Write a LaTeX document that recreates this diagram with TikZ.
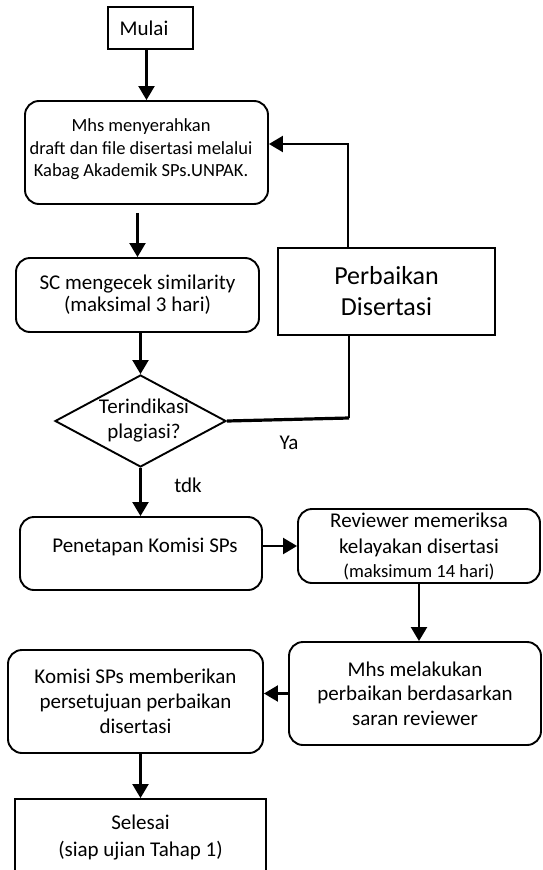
\documentclass[tikz,border=0pt]{standalone}
\usepackage{fontspec}
\setmainfont{Carlito}
\usetikzlibrary{shapes.geometric,arrows.meta,calc}
\begin{document}
\begin{tikzpicture}[x=1pt,y=-1pt,
  box/.style={draw, line width=1.9pt, align=center, inner sep=0pt, font=\fontsize{21}{25}\selectfont},
  rbox/.style={box, rounded corners=14pt},
  arr/.style={line width=2.2pt, -{Triangle[length=14pt,width=16pt]}},
  ln/.style={line width=2.2pt},
  lbl/.style={font=\fontsize{21}{25}\selectfont, inner sep=0pt, align=center}]
\useasboundingbox[fill=white] (0,0) rectangle (543,870);

\node[box, minimum width=85pt, minimum height=42pt] (mulai) at (150.5,28) {\hspace*{-13pt}Mulai};
\node[rbox, minimum width=243pt, minimum height=103pt] (b1) at (146.5,152.5) {};
\node[lbl, font=\fontsize{18.5}{22.5}\selectfont] (b1t) at (141,149.5)
  {Mhs menyerahkan\\draft dan file disertasi melalui\\Kabag Akademik SPs.UNPAK.};
\node[rbox, minimum width=243pt, minimum height=74pt, font=\fontsize{21}{22}\selectfont] (b2) at (137.5,295)
  {SC mengecek similarity\\(maksimal 3 hari)};
\node[box, minimum width=217pt, minimum height=87pt, font=\fontsize{26}{31}\selectfont] (perb) at (386.5,291.5)
  {Perbaikan\\Disertasi};
\node[draw, diamond, line width=1.9pt, minimum width=171pt, minimum height=92pt, inner sep=0pt] (q) at (140.5,421) {};
\node[lbl] (qt) at (144,420.5) {Terindikasi\\plagiasi?};
\node[rbox, minimum width=242pt, minimum height=73pt] (pen) at (141,553.5) {};
\node[lbl] (pent) at (145,547) {Penetapan Komisi SPs};
\node[rbox, minimum width=242pt, minimum height=74pt, font=\fontsize{21}{26}\selectfont] (rev) at (419,546)
  {Reviewer memeriksa\\kelayakan disertasi\\[-2pt]{\fontsize{18.6}{22}\selectfont (maksimum 14 hari)}};
\node[rbox, minimum width=252pt, minimum height=103pt, font=\fontsize{21}{24.5}\selectfont] (mhs) at (415,693.5)
  {Mhs melakukan\\perbaikan berdasarkan\\saran reviewer};
\node[rbox, minimum width=255pt, minimum height=103pt] (kom) at (135.5,701.5)
  {Komisi SPs memberikan\\persetujuan perbaikan\\disertasi};
\node[box, minimum width=251pt, minimum height=76pt, font=\fontsize{21}{27}\selectfont] (sel) at (140.5,837)
  {Selesai\\(siap ujian Tahap 1)};

\node[lbl] (ya) at (289,443) {Ya};
\node[lbl] (tdk) at (188,485) {tdk};

\coordinate (c1) at (349,418);
\coordinate (c2) at (348,144);

\draw[arr] (mulai.south -| b1.north) -- (b1.north);
\draw[arr] ([yshift=-8pt]b1.south -| b2.north) -- (b2.north);
\draw[arr] (b2.south -| q.north) -- (q.north);
\draw[arr] (q.south) -- (q.south |- pen.north);
\draw[arr] (rev.west -| pen.east) -- (rev.west);
\draw[arr] (rev.south) -- (rev.south |- mhs.north);
\draw[arr] (mhs.west) -- (mhs.west -| kom.east);
\draw[arr] (kom.south -| sel.north) -- (sel.north);
\draw[line width=3.2pt] (q.east) -- (c1);
\draw[ln] (c1) -- (c1 |- perb.south);
\draw[arr] (c2 |- perb.north) -- (c2) -- (c2 -| b1.east);
\end{tikzpicture}
\end{document}
